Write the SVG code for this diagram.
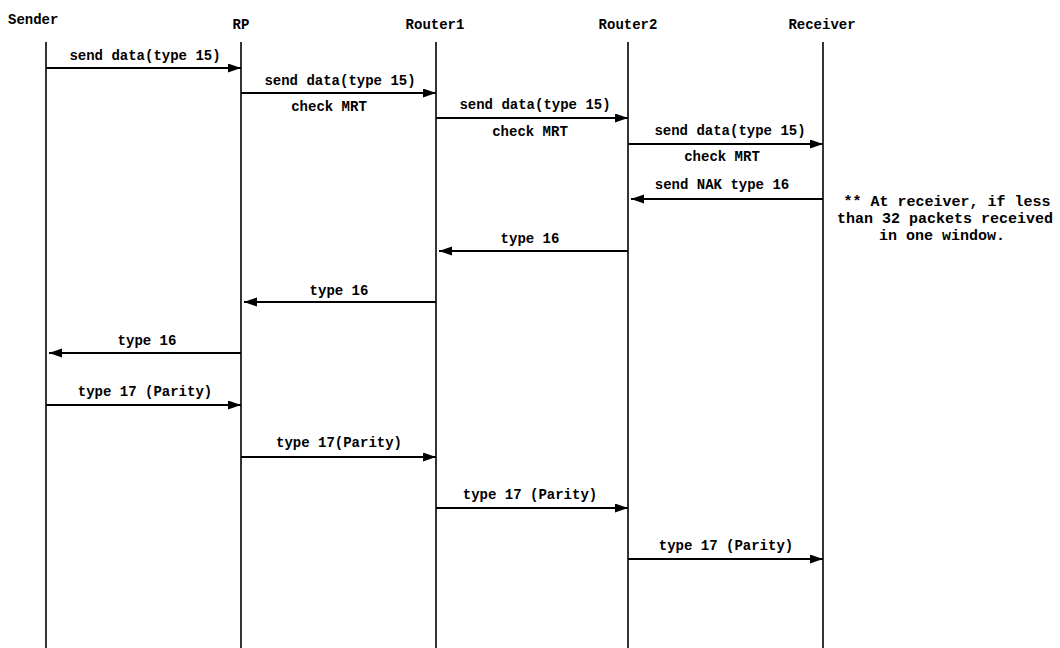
<svg xmlns="http://www.w3.org/2000/svg" width="1060" height="648" viewBox="0 0 1060 648">
<style>
text{font-family:"Liberation Mono","DejaVu Sans Mono",monospace;font-size:14px;font-weight:bold;fill:#000}
.lbl{text-anchor:middle}
.note{font-size:15px}
.life{stroke:#000;stroke-width:1.6;fill:none}
.msg{stroke:#000;stroke-width:2;fill:none;marker-end:url(#ah)}
</style>
<defs>
<marker id="ah" markerUnits="userSpaceOnUse" markerWidth="14" markerHeight="10" refX="13" refY="4.5" orient="auto">
<path d="M0,0 L13,4.5 L0,9 z" fill="#000"/>
</marker>
</defs>
<rect width="1060" height="648" fill="#fff"/>
<g id="sender"><text x="8" y="24">Sender</text><line class="life" x1="46" y1="42" x2="46" y2="648"/></g>
<g id="rp"><text class="lbl" x="241" y="29">RP</text><line class="life" x1="241" y1="42" x2="241" y2="648"/></g>
<g id="router1"><text class="lbl" x="435" y="29">Router1</text><line class="life" x1="436" y1="42" x2="436" y2="648"/></g>
<g id="router2"><text class="lbl" x="628" y="29">Router2</text><line class="life" x1="628" y1="42" x2="628" y2="648"/></g>
<g id="receiver"><text class="lbl" x="822" y="29">Receiver</text><line class="life" x1="823" y1="42" x2="823" y2="648"/></g>
<g id="connectors">
<line class="msg" x1="46" y1="68" x2="241" y2="68"/>
<line class="msg" x1="241" y1="93" x2="436" y2="93"/>
<line class="msg" x1="436" y1="118" x2="628" y2="118"/>
<line class="msg" x1="628" y1="144" x2="823" y2="144"/>
<line class="msg" x1="823" y1="199" x2="631" y2="199"/>
<line class="msg" x1="628" y1="251" x2="439" y2="251"/>
<line class="msg" x1="436" y1="302" x2="244" y2="302"/>
<line class="msg" x1="241" y1="353" x2="49" y2="353"/>
<line class="msg" x1="46" y1="405" x2="241" y2="405"/>
<line class="msg" x1="241" y1="457" x2="436" y2="457"/>
<line class="msg" x1="436" y1="508" x2="628" y2="508"/>
<line class="msg" x1="628" y1="559" x2="823" y2="559"/>
</g>
<g id="labels">
<text class="lbl" x="145" y="60">send data(type 15)</text>
<text class="lbl" x="340" y="85">send data(type 15)</text>
<text class="lbl" x="329" y="111">check MRT</text>
<text class="lbl" x="535" y="109">send data(type 15)</text>
<text class="lbl" x="530" y="136">check MRT</text>
<text class="lbl" x="730" y="135">send data(type 15)</text>
<text class="lbl" x="722" y="161">check MRT</text>
<text class="lbl" x="722" y="189">send NAK type 16</text>
<text class="lbl" x="530" y="243">type 16</text>
<text class="lbl" x="339" y="295">type 16</text>
<text class="lbl" x="147" y="345">type 16</text>
<text class="lbl" x="145" y="396">type 17 (Parity)</text>
<text class="lbl" x="339" y="447">type 17(Parity)</text>
<text class="lbl" x="530" y="499">type 17 (Parity)</text>
<text class="lbl" x="726" y="550">type 17 (Parity)</text>
</g>
<g id="note">
<text class="lbl note" x="947" y="206">** At receiver, if less</text>
<text class="lbl note" x="945" y="223">than 32 packets received</text>
<text class="lbl note" x="942" y="240">in one window.</text>
</g>
</svg>
